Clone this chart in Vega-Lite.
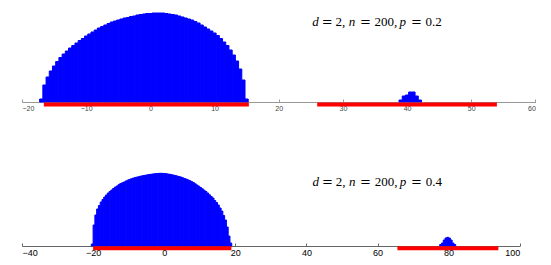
{
  "$schema": "https://vega.github.io/schema/vega-lite/v6.json",
  "padding": {"left": 21, "top": 0, "right": 4, "bottom": 0},
  "bounds": "flush",
  "spacing": 64,
  "config": {"view": {"stroke": null}, "background": "white"},
  "datasets": {
    "topBars": [
      {"a":-17.25,"b":-16.75,"h":3},{"a":-16.75,"b":-16.25,"h":17},{"a":-16.25,"b":-15.75,"h":25},{"a":-15.75,"b":-15.25,"h":31},
      {"a":-15.25,"b":-14.75,"h":36},{"a":-14.75,"b":-14.25,"h":40.5},{"a":-14.25,"b":-13.75,"h":44.5},{"a":-13.75,"b":-13.25,"h":48},
      {"a":-13.25,"b":-12.75,"h":51},{"a":-12.75,"b":-12.25,"h":54},{"a":-12.25,"b":-11.75,"h":56.5},{"a":-11.75,"b":-11.25,"h":59},
      {"a":-11.25,"b":-10.75,"h":61.5},{"a":-10.75,"b":-10.25,"h":63.5},{"a":-10.25,"b":-9.75,"h":66},{"a":-9.75,"b":-9.25,"h":68},
      {"a":-9.25,"b":-8.75,"h":70},{"a":-8.75,"b":-8.25,"h":72},{"a":-8.25,"b":-7.75,"h":74},{"a":-7.75,"b":-7.25,"h":75.5},
      {"a":-7.25,"b":-6.75,"h":77},{"a":-6.75,"b":-6.25,"h":78.5},{"a":-6.25,"b":-5.75,"h":80},{"a":-5.75,"b":-5.25,"h":81},
      {"a":-5.25,"b":-4.75,"h":82},{"a":-4.75,"b":-4.25,"h":83},{"a":-4.25,"b":-3.75,"h":84},{"a":-3.75,"b":-3.25,"h":84.5},
      {"a":-3.25,"b":-2.75,"h":85.5},{"a":-2.75,"b":-2.25,"h":86},{"a":-2.25,"b":-1.75,"h":87},{"a":-1.75,"b":-1.25,"h":87.5},
      {"a":-1.25,"b":-0.75,"h":88},{"a":-0.75,"b":-0.25,"h":88.5},{"a":-0.25,"b":0.25,"h":88.5},{"a":0.25,"b":0.75,"h":89},
      {"a":0.75,"b":1.25,"h":89},{"a":1.25,"b":1.75,"h":89},{"a":1.75,"b":2.25,"h":89},{"a":2.25,"b":2.75,"h":88.5},
      {"a":2.75,"b":3.25,"h":88},{"a":3.25,"b":3.75,"h":87.5},{"a":3.75,"b":4.25,"h":87},{"a":4.25,"b":4.75,"h":86},
      {"a":4.75,"b":5.25,"h":85},{"a":5.25,"b":5.75,"h":84},{"a":5.75,"b":6.25,"h":83},{"a":6.25,"b":6.75,"h":82},
      {"a":6.75,"b":7.25,"h":80.5},{"a":7.25,"b":7.75,"h":79},{"a":7.75,"b":8.25,"h":77},{"a":8.25,"b":8.75,"h":75},
      {"a":8.75,"b":9.25,"h":73},{"a":9.25,"b":9.75,"h":71},{"a":9.75,"b":10.25,"h":69},{"a":10.25,"b":10.75,"h":66.5},
      {"a":10.75,"b":11.25,"h":63.5},{"a":11.25,"b":11.75,"h":60},{"a":11.75,"b":12.25,"h":56.5},{"a":12.25,"b":12.75,"h":52},
      {"a":12.75,"b":13.25,"h":47},{"a":13.25,"b":13.75,"h":41},{"a":13.75,"b":14.25,"h":33},{"a":14.25,"b":14.75,"h":22},
      {"a":14.75,"b":15.25,"h":3},
      {"a":38.75,"b":39.25,"h":2},{"a":39.25,"b":39.75,"h":6},{"a":39.75,"b":40.25,"h":7},{"a":40.25,"b":40.75,"h":10},
      {"a":40.75,"b":41.25,"h":10},{"a":41.25,"b":41.75,"h":6},{"a":41.75,"b":42.25,"h":2}
    ],
    "topRed": [{"a": -16.6, "b": 15.35, "y": -2.5}, {"a": 26, "b": 54, "y": -2.5}],
    "topText": [
      {"x": 25.23, "y": 75.7, "t": "d", "s": "i"},
      {"x": 27.57, "y": 75.7, "t": "=", "s": "e"},
      {"x": 28.86, "y": 75.7, "t": "2,", "s": "u"},
      {"x": 30.93, "y": 75.7, "t": "n", "s": "i"},
      {"x": 33.5, "y": 75.7, "t": "=", "s": "e"},
      {"x": 34.94, "y": 75.7, "t": "200,", "s": "u"},
      {"x": 38.83, "y": 75.7, "t": "p", "s": "i"},
      {"x": 41.45, "y": 75.7, "t": "=", "s": "e"},
      {"x": 42.88, "y": 75.7, "t": "0.2", "s": "u"}
    ],
    "botBars": [
      {"a":-20.5,"b":-20,"h":2},{"a":-20,"b":-19.5,"h":21},{"a":-19.5,"b":-19,"h":31},{"a":-19,"b":-18.5,"h":37},
      {"a":-18.5,"b":-18,"h":40.5},{"a":-18,"b":-17.5,"h":44},{"a":-17.5,"b":-17,"h":46.5},{"a":-17,"b":-16.5,"h":49},
      {"a":-16.5,"b":-16,"h":51},{"a":-16,"b":-15.5,"h":53},{"a":-15.5,"b":-15,"h":54.5},{"a":-15,"b":-14.5,"h":56},
      {"a":-14.5,"b":-14,"h":57.5},{"a":-14,"b":-13.5,"h":59},{"a":-13.5,"b":-13,"h":60},{"a":-13,"b":-12.5,"h":61.3},
      {"a":-12.5,"b":-12,"h":62.4},{"a":-12,"b":-11.5,"h":63.2},{"a":-11.5,"b":-11,"h":64},{"a":-11,"b":-10.5,"h":65},
      {"a":-10.5,"b":-10,"h":65.8},{"a":-10,"b":-9.5,"h":66.5},{"a":-9.5,"b":-9,"h":67.2},{"a":-9,"b":-8.5,"h":67.8},
      {"a":-8.5,"b":-8,"h":68.3},{"a":-8,"b":-7.5,"h":68.8},{"a":-7.5,"b":-7,"h":69.2},{"a":-7,"b":-6.5,"h":69.7},
      {"a":-6.5,"b":-6,"h":70.1},{"a":-6,"b":-5.5,"h":70.5},{"a":-5.5,"b":-5,"h":70.8},{"a":-5,"b":-4.5,"h":71.1},
      {"a":-4.5,"b":-4,"h":71.4},{"a":-4,"b":-3.5,"h":71.7},{"a":-3.5,"b":-3,"h":72},{"a":-3,"b":-2.5,"h":72.2},
      {"a":-2.5,"b":-2,"h":72.4},{"a":-2,"b":-1.5,"h":72.5},{"a":-1.5,"b":-1,"h":72.7},{"a":-1,"b":-0.5,"h":72.7},
      {"a":-0.5,"b":0,"h":72.6},{"a":0,"b":0.5,"h":72.4},{"a":0.5,"b":1,"h":72.2},{"a":1,"b":1.5,"h":71.9},
      {"a":1.5,"b":2,"h":71.6},{"a":2,"b":2.5,"h":71.2},{"a":2.5,"b":3,"h":70.8},{"a":3,"b":3.5,"h":70.4},
      {"a":3.5,"b":4,"h":69.9},{"a":4,"b":4.5,"h":69.4},{"a":4.5,"b":5,"h":68.9},{"a":5,"b":5.5,"h":68.2},
      {"a":5.5,"b":6,"h":67.5},{"a":6,"b":6.5,"h":66.9},{"a":6.5,"b":7,"h":66.1},{"a":7,"b":7.5,"h":65.3},
      {"a":7.5,"b":8,"h":64.4},{"a":8,"b":8.5,"h":63.4},{"a":8.5,"b":9,"h":62.2},{"a":9,"b":9.5,"h":61},
      {"a":9.5,"b":10,"h":59.8},{"a":10,"b":10.5,"h":58.5},{"a":10.5,"b":11,"h":57.2},{"a":11,"b":11.5,"h":55.8},
      {"a":11.5,"b":12,"h":54.5},{"a":12,"b":12.5,"h":53},{"a":12.5,"b":13,"h":51.2},{"a":13,"b":13.5,"h":49.5},
      {"a":13.5,"b":14,"h":48},{"a":14,"b":14.5,"h":45.5},{"a":14.5,"b":15,"h":43.5},{"a":15,"b":15.5,"h":41},
      {"a":15.5,"b":16,"h":38},{"a":16,"b":16.5,"h":35},{"a":16.5,"b":17,"h":30.5},{"a":17,"b":17.5,"h":26},
      {"a":17.5,"b":18,"h":19},{"a":18,"b":18.5,"h":10},{"a":18.5,"b":19,"h":3},
      {"a":77.5,"b":78,"h":1.5},{"a":78,"b":78.5,"h":3},{"a":78.5,"b":79,"h":6},{"a":79,"b":79.5,"h":8},
      {"a":79.5,"b":80,"h":8.7},{"a":80,"b":80.5,"h":8},{"a":80.5,"b":81,"h":6},{"a":81,"b":81.5,"h":3},
      {"a":81.5,"b":82,"h":1.5}
    ],
    "botRed": [{"a": -20, "b": 18.9, "y": -2.3}, {"a": 65.6, "b": 94, "y": -2.3}],
    "botText": [
      {"x": 41.69, "y": 60.5, "t": "d", "s": "i"},
      {"x": 45.91, "y": 60.5, "t": "=", "s": "e"},
      {"x": 48.24, "y": 60.5, "t": "2,", "s": "u"},
      {"x": 51.98, "y": 60.5, "t": "n", "s": "i"},
      {"x": 56.62, "y": 60.5, "t": "=", "s": "e"},
      {"x": 59.21, "y": 60.5, "t": "200,", "s": "u"},
      {"x": 66.24, "y": 60.5, "t": "p", "s": "i"},
      {"x": 70.97, "y": 60.5, "t": "=", "s": "e"},
      {"x": 73.56, "y": 60.5, "t": "0.4", "s": "u"}
    ]
  },
  "vconcat": [
    {
      "width": 513.4,
      "height": 102,
      "layer": [
        {
          "data": {"name": "topBars"},
          "mark": {"type": "rect", "color": "#0000ff", "stroke": "#0000ff", "strokeWidth": 1},
          "encoding": {
            "x": {"field": "a", "type": "quantitative",
                  "scale": {"domain": [-20, 60], "nice": false, "zero": false},
                  "axis": {"title": null, "grid": false, "values": [-20, -10, 0, 10, 20, 30, 40, 50, 60],
                           "domainColor": "#999999", "tickColor": "#999999", "tickSize": -3,
                           "labelPadding": 5.5, "labelFontSize": 7, "labelColor": "#444444", "labelFont": "Liberation Sans"}},
            "x2": {"field": "b"},
            "y": {"field": "h", "type": "quantitative", "scale": {"domain": [0, 102], "nice": false}, "axis": null},
            "y2": {"datum": 0}
          }
        },
        {
          "data": {"name": "topRed"},
          "mark": {"type": "rule", "color": "#ff0000", "strokeWidth": 4},
          "encoding": {
            "x": {"field": "a", "type": "quantitative"},
            "x2": {"field": "b"},
            "y": {"field": "y", "type": "quantitative"}
          }
        },
        {
          "data": {"name": "topText"},
          "transform": [{"filter": "datum.s === 'i'"}],
          "mark": {"type": "text", "font": "Liberation Serif", "fontSize": 13, "fontStyle": "italic", "align": "left", "baseline": "alphabetic", "color": "#000000"},
          "encoding": {
            "x": {"field": "x", "type": "quantitative"},
            "y": {"field": "y", "type": "quantitative"},
            "text": {"field": "t"}
          }
        },
        {
          "data": {"name": "topText"},
          "transform": [{"filter": "datum.s === 'u'"}],
          "mark": {"type": "text", "font": "Liberation Serif", "fontSize": 13, "align": "left", "baseline": "alphabetic", "color": "#000000"},
          "encoding": {
            "x": {"field": "x", "type": "quantitative"},
            "y": {"field": "y", "type": "quantitative"},
            "text": {"field": "t"}
          }
        },
        {
          "data": {"name": "topText"},
          "transform": [{"filter": "datum.s === 'e'"}],
          "mark": {"type": "text", "font": "DejaVu Serif", "fontSize": 13, "align": "center", "baseline": "alphabetic", "color": "#000000"},
          "encoding": {
            "x": {"field": "x", "type": "quantitative"},
            "y": {"field": "y", "type": "quantitative"},
            "text": {"field": "t"}
          }
        }
      ]
    },
    {
      "width": 497.7,
      "height": 80,
      "layer": [
        {
          "data": {"name": "botBars"},
          "mark": {"type": "rect", "color": "#0000ff", "stroke": "#0000ff", "strokeWidth": 1},
          "encoding": {
            "x": {"field": "a", "type": "quantitative",
                  "scale": {"domain": [-40, 100], "nice": false, "zero": false},
                  "axis": {"title": null, "grid": false, "values": [-40, -20, 0, 20, 40, 60, 80, 100],
                           "domainColor": "#666666", "tickColor": "#666666", "tickSize": -3,
                           "labelPadding": 5.5, "labelFontSize": 9, "labelColor": "#000000", "labelFont": "Liberation Sans"}},
            "x2": {"field": "b"},
            "y": {"field": "h", "type": "quantitative", "scale": {"domain": [0, 80], "nice": false}, "axis": null},
            "y2": {"datum": 0}
          }
        },
        {
          "data": {"name": "botRed"},
          "mark": {"type": "rule", "color": "#ff0000", "strokeWidth": 4},
          "encoding": {
            "x": {"field": "a", "type": "quantitative"},
            "x2": {"field": "b"},
            "y": {"field": "y", "type": "quantitative"}
          }
        },
        {
          "data": {"name": "botText"},
          "transform": [{"filter": "datum.s === 'i'"}],
          "mark": {"type": "text", "font": "Liberation Serif", "fontSize": 13, "fontStyle": "italic", "align": "left", "baseline": "alphabetic", "color": "#000000"},
          "encoding": {
            "x": {"field": "x", "type": "quantitative"},
            "y": {"field": "y", "type": "quantitative"},
            "text": {"field": "t"}
          }
        },
        {
          "data": {"name": "botText"},
          "transform": [{"filter": "datum.s === 'u'"}],
          "mark": {"type": "text", "font": "Liberation Serif", "fontSize": 13, "align": "left", "baseline": "alphabetic", "color": "#000000"},
          "encoding": {
            "x": {"field": "x", "type": "quantitative"},
            "y": {"field": "y", "type": "quantitative"},
            "text": {"field": "t"}
          }
        },
        {
          "data": {"name": "botText"},
          "transform": [{"filter": "datum.s === 'e'"}],
          "mark": {"type": "text", "font": "DejaVu Serif", "fontSize": 13, "align": "center", "baseline": "alphabetic", "color": "#000000"},
          "encoding": {
            "x": {"field": "x", "type": "quantitative"},
            "y": {"field": "y", "type": "quantitative"},
            "text": {"field": "t"}
          }
        }
      ]
    }
  ]
}
